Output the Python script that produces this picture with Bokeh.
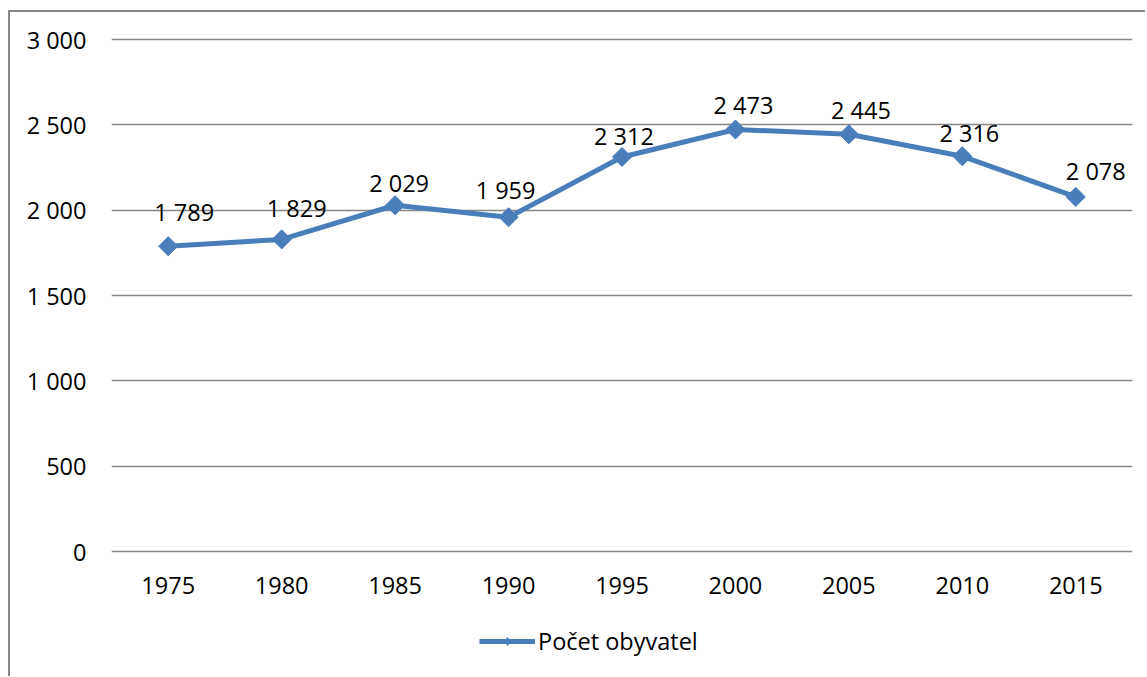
from bokeh.plotting import figure
from bokeh.models import ColumnDataSource, Range1d, FactorRange, FixedTicker, Legend, LegendItem
from bokeh.core.properties import value
from bokeh.embed import file_html
from bokeh.resources import INLINE

# ---- data ----
years = ["1975", "1980", "1985", "1990", "1995", "2000", "2005", "2010", "2015"]
population = [1789, 1829, 2029, 1959, 2312, 2473, 2445, 2316, 2078]
y_ticks = [0, 500, 1000, 1500, 2000, 2500, 3000]
y_tick_labels = ["0", "500", "1 000", "1 500", "2 000", "2 500", "3 000"]
series_name = "Počet obyvatel"

# ---- styling (pixel offsets of the data labels) ----
label_dx = [16, 15, 4, -3, 2, 8, 12, 7, 20]
label_dy = [-34, -31, -22, -27, -21, -24, -24, -23, -26]

FONT = "Open Sans"
FS = "23.5px"
BLUE = "#4A7EBB"
GRID = "#878787"

labels = [f"{v:,}".replace(",", " ") for v in population]
src = ColumnDataSource(dict(x=years, y=population, lab=labels, dx=label_dx, dy=label_dy))

# the frame reaches down to the legend; the category axis sits at the bottom of the value scale
p = figure(
    frame_width=1021, frame_height=639,
    x_range=FactorRange(*years, range_padding=0),
    y_range=Range1d(-732.4, 3012),
    output_backend="svg", toolbar_location=None,
    min_border_left=101, min_border_right=13, min_border_top=25, min_border_bottom=0,
    styles={"margin-left": "8px", "margin-top": "10px",
            "border-left": f"2px solid {GRID}", "border-top": f"2px solid {GRID}"},
)
p.outline_line_color = None
p.background_fill_color = "white"
p.border_fill_color = "white"

# axes
p.yaxis.ticker = FixedTicker(ticks=y_ticks)
p.yaxis.major_label_overrides = {t: l for t, l in zip(y_ticks, y_tick_labels)}
p.yaxis.axis_line_color = None
p.yaxis.major_tick_line_color = None
p.yaxis.minor_tick_line_color = None
p.yaxis.major_tick_out = 0
p.yaxis.minor_tick_out = 0
p.yaxis.major_label_standoff = 25
p.yaxis.major_label_text_font = FONT
p.yaxis.major_label_text_font_size = FS
p.yaxis.major_label_text_color = "black"

p.xaxis.fixed_location = -12
p.xaxis.axis_line_color = None
p.xaxis.major_tick_line_color = None
p.xaxis.minor_tick_line_color = None
p.xaxis.major_tick_out = 0
p.xaxis.minor_tick_out = 0
p.xaxis.major_label_standoff = 23
p.xaxis.major_label_text_font = FONT
p.xaxis.major_label_text_font_size = FS
p.xaxis.major_label_text_color = "black"

p.xgrid.grid_line_color = None
p.ygrid.grid_line_color = GRID
p.ygrid.grid_line_width = 1.4

# series
line = p.line("x", "y", source=src, line_color=BLUE, line_width=5, line_join="round")
marks = p.scatter("x", "y", source=src, marker="square", angle=0.785398, size=13.5,
                  fill_color=BLUE, line_color=BLUE)
# legend glyph for the series marker (hidden in the plot, shown in the legend)
legend_mark = p.scatter("x", "y", source=src, marker="diamond", size=18,
                        fill_color=BLUE, line_color=BLUE, visible=False)

# data labels
p.text("x", "y", text="lab", source=src, x_offset="dx", y_offset="dy",
       text_align="center", text_baseline="middle",
       text_font=value(FONT), text_font_size=FS, text_color="black")

legend = Legend(items=[LegendItem(label=series_name, renderers=[line, legend_mark])],
                location=(368, 19), orientation="horizontal",
                glyph_width=56, glyph_height=20, label_standoff=3,
                padding=0, margin=0, spacing=0, click_policy="none",
                border_line_color=None, background_fill_alpha=0,
                label_text_font=FONT, label_text_font_size=FS, label_text_color="black")
p.add_layout(legend)

open("out.html", "w").write(file_html(p, INLINE))
